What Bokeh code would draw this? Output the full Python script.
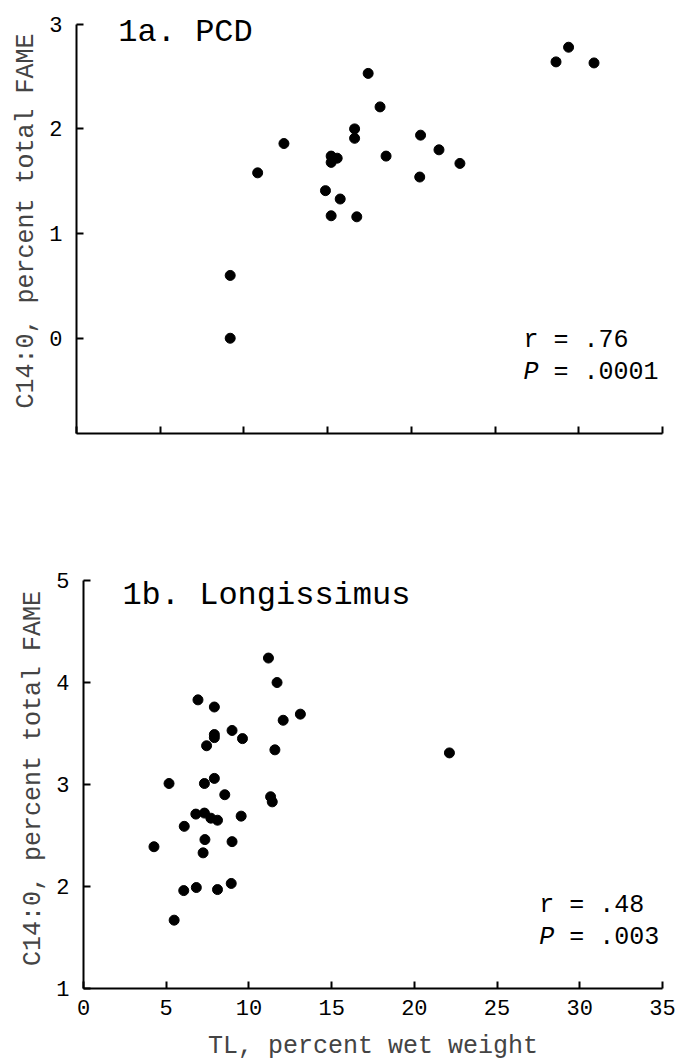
from bokeh.plotting import figure
from bokeh.layouts import column
from bokeh.models import Range1d, FixedTicker, Label, ColumnDataSource, CustomJSTickFormatter
from bokeh.embed import file_html
from bokeh.resources import INLINE

# ---- data: panel 1a (PCD) ----
pcd_tl = [9.18, 9.18, 10.82, 12.39, 14.87, 15.21, 15.21, 15.57, 15.21, 15.75,
          16.61, 16.61, 16.74, 17.42, 18.13, 18.49, 20.55, 20.50, 21.65, 22.90,
          28.64, 29.39, 30.91]
pcd_c14 = [0.60, 0.00, 1.58, 1.86, 1.41, 1.74, 1.68, 1.72, 1.17, 1.33,
           2.00, 1.91, 1.16, 2.53, 2.21, 1.74, 1.94, 1.54, 1.80, 1.67,
           2.64, 2.78, 2.63]

# ---- data: panel 1b (Longissimus) ----
lon_tl = [11.18, 11.70, 6.92, 7.91, 13.11, 12.07, 8.98, 7.91, 7.91, 7.44,
          9.61, 11.57, 22.12, 5.17, 7.31, 7.91, 8.54, 11.31, 11.41, 6.79,
          7.31, 7.70, 8.10, 9.53, 6.09, 4.26, 7.34, 8.98, 7.23, 6.06,
          6.82, 8.10, 8.93, 5.48]
lon_c14 = [4.24, 4.00, 3.83, 3.76, 3.69, 3.63, 3.53, 3.49, 3.46, 3.38,
           3.45, 3.34, 3.31, 3.01, 3.01, 3.06, 2.90, 2.88, 2.83, 2.71,
           2.72, 2.67, 2.65, 2.69, 2.59, 2.39, 2.46, 2.44, 2.33, 1.96,
           1.99, 1.97, 2.03, 1.67]

x_ticks = [0, 5, 10, 15, 20, 25, 30, 35]
y_ticks_a = [0, 1, 2, 3]
y_ticks_b = [1, 2, 3, 4, 5]

title_a = "1a. PCD"
title_b = "1b. Longissimus"
stats_a = ("r = .76", ".0001")
stats_b = ("r = .48", ".003")
y_label = "C14:0, percent total FAME"
x_label = "TL, percent wet weight"

FONT = "Liberation Mono"


def style(p, yticks, ybounds):
    p.outline_line_color = None
    p.grid.grid_line_color = None
    p.background_fill_color = "white"
    p.border_fill_color = "white"
    for ax in (p.xaxis[0], p.yaxis[0]):
        ax.axis_line_width = 2
        ax.axis_line_color = "black"
        ax.major_tick_in = 7
        ax.major_tick_out = 0
        ax.major_tick_line_width = 2
        ax.major_tick_line_color = "black"
        ax.minor_tick_line_color = None
        ax.major_label_text_font = FONT
        ax.major_label_text_font_size = "22px"
        ax.major_label_text_color = "black"
        ax.axis_label_text_font = FONT
        ax.axis_label_text_font_style = "normal"
        ax.axis_label_text_font_size = "25px"
    p.xaxis[0].ticker = FixedTicker(ticks=x_ticks)
    p.yaxis[0].ticker = FixedTicker(ticks=yticks)
    p.yaxis[0].bounds = ybounds
    p.yaxis[0].axis_label = y_label
    p.yaxis[0].axis_label_text_color = "#444444"
    p.yaxis[0].major_label_orientation = "horizontal"
    p.yaxis[0].major_label_standoff = 14
    p.yaxis[0].axis_label_standoff = 5


def add_stats(p, x, y_r, y_p, r_text, p_val):
    common = dict(text_font=FONT, text_font_size="25px", text_color="black",
                  text_baseline="alphabetic", text_align="left")
    p.add_layout(Label(x=x, y=y_r, text=r_text, **common))
    p.add_layout(Label(x=x, y=y_p, text="P", text_font_style="italic", **common))
    p.add_layout(Label(x=x, y=y_p, x_offset=30, text="= " + p_val, **common))


# ---------------- panel a ----------------
p1 = figure(width=685, height=505, output_backend="svg", toolbar_location=None,
            x_range=Range1d(0, 35), y_range=Range1d(-0.91, 3.15),
            min_border_left=76, min_border_right=23,
            min_border_top=8, min_border_bottom=72)
style(p1, y_ticks_a, (-0.91, 3))
p1.xaxis[0].formatter = CustomJSTickFormatter(code="return ''")
src_a = ColumnDataSource(dict(x=pcd_tl, y=pcd_c14))
p1.scatter("x", "y", source=src_a, size=10, color="black")
p1.add_layout(Label(x=2.5, y=2.92, text=title_a, text_font=FONT,
                    text_font_size="32px", text_color="black",
                    text_baseline="alphabetic"))
add_stats(p1, 26.7, -0.02, -0.33, *stats_a)

# ---------------- panel b ----------------
p2 = figure(width=685, height=558, output_backend="svg", toolbar_location=None,
            x_range=Range1d(0, 35), y_range=Range1d(1, 5.118),
            min_border_left=83, min_border_right=23,
            min_border_top=63, min_border_bottom=75)
style(p2, y_ticks_b, (1, 5))
p2.xaxis[0].axis_label = x_label
p2.xaxis[0].major_label_standoff = 11
p2.xaxis[0].axis_label_standoff = 14
src_b = ColumnDataSource(dict(x=lon_tl, y=lon_c14))
p2.scatter("x", "y", source=src_b, size=10, color="black")
p2.add_layout(Label(x=2.35, y=4.85, text=title_b, text_font=FONT,
                    text_font_size="32px", text_color="black",
                    text_baseline="alphabetic"))
add_stats(p2, 27.55, 1.81, 1.50, *stats_b)

layout = column(column(p1), column(p2), spacing=0)
open("out.html", "w").write(file_html(layout, INLINE))
